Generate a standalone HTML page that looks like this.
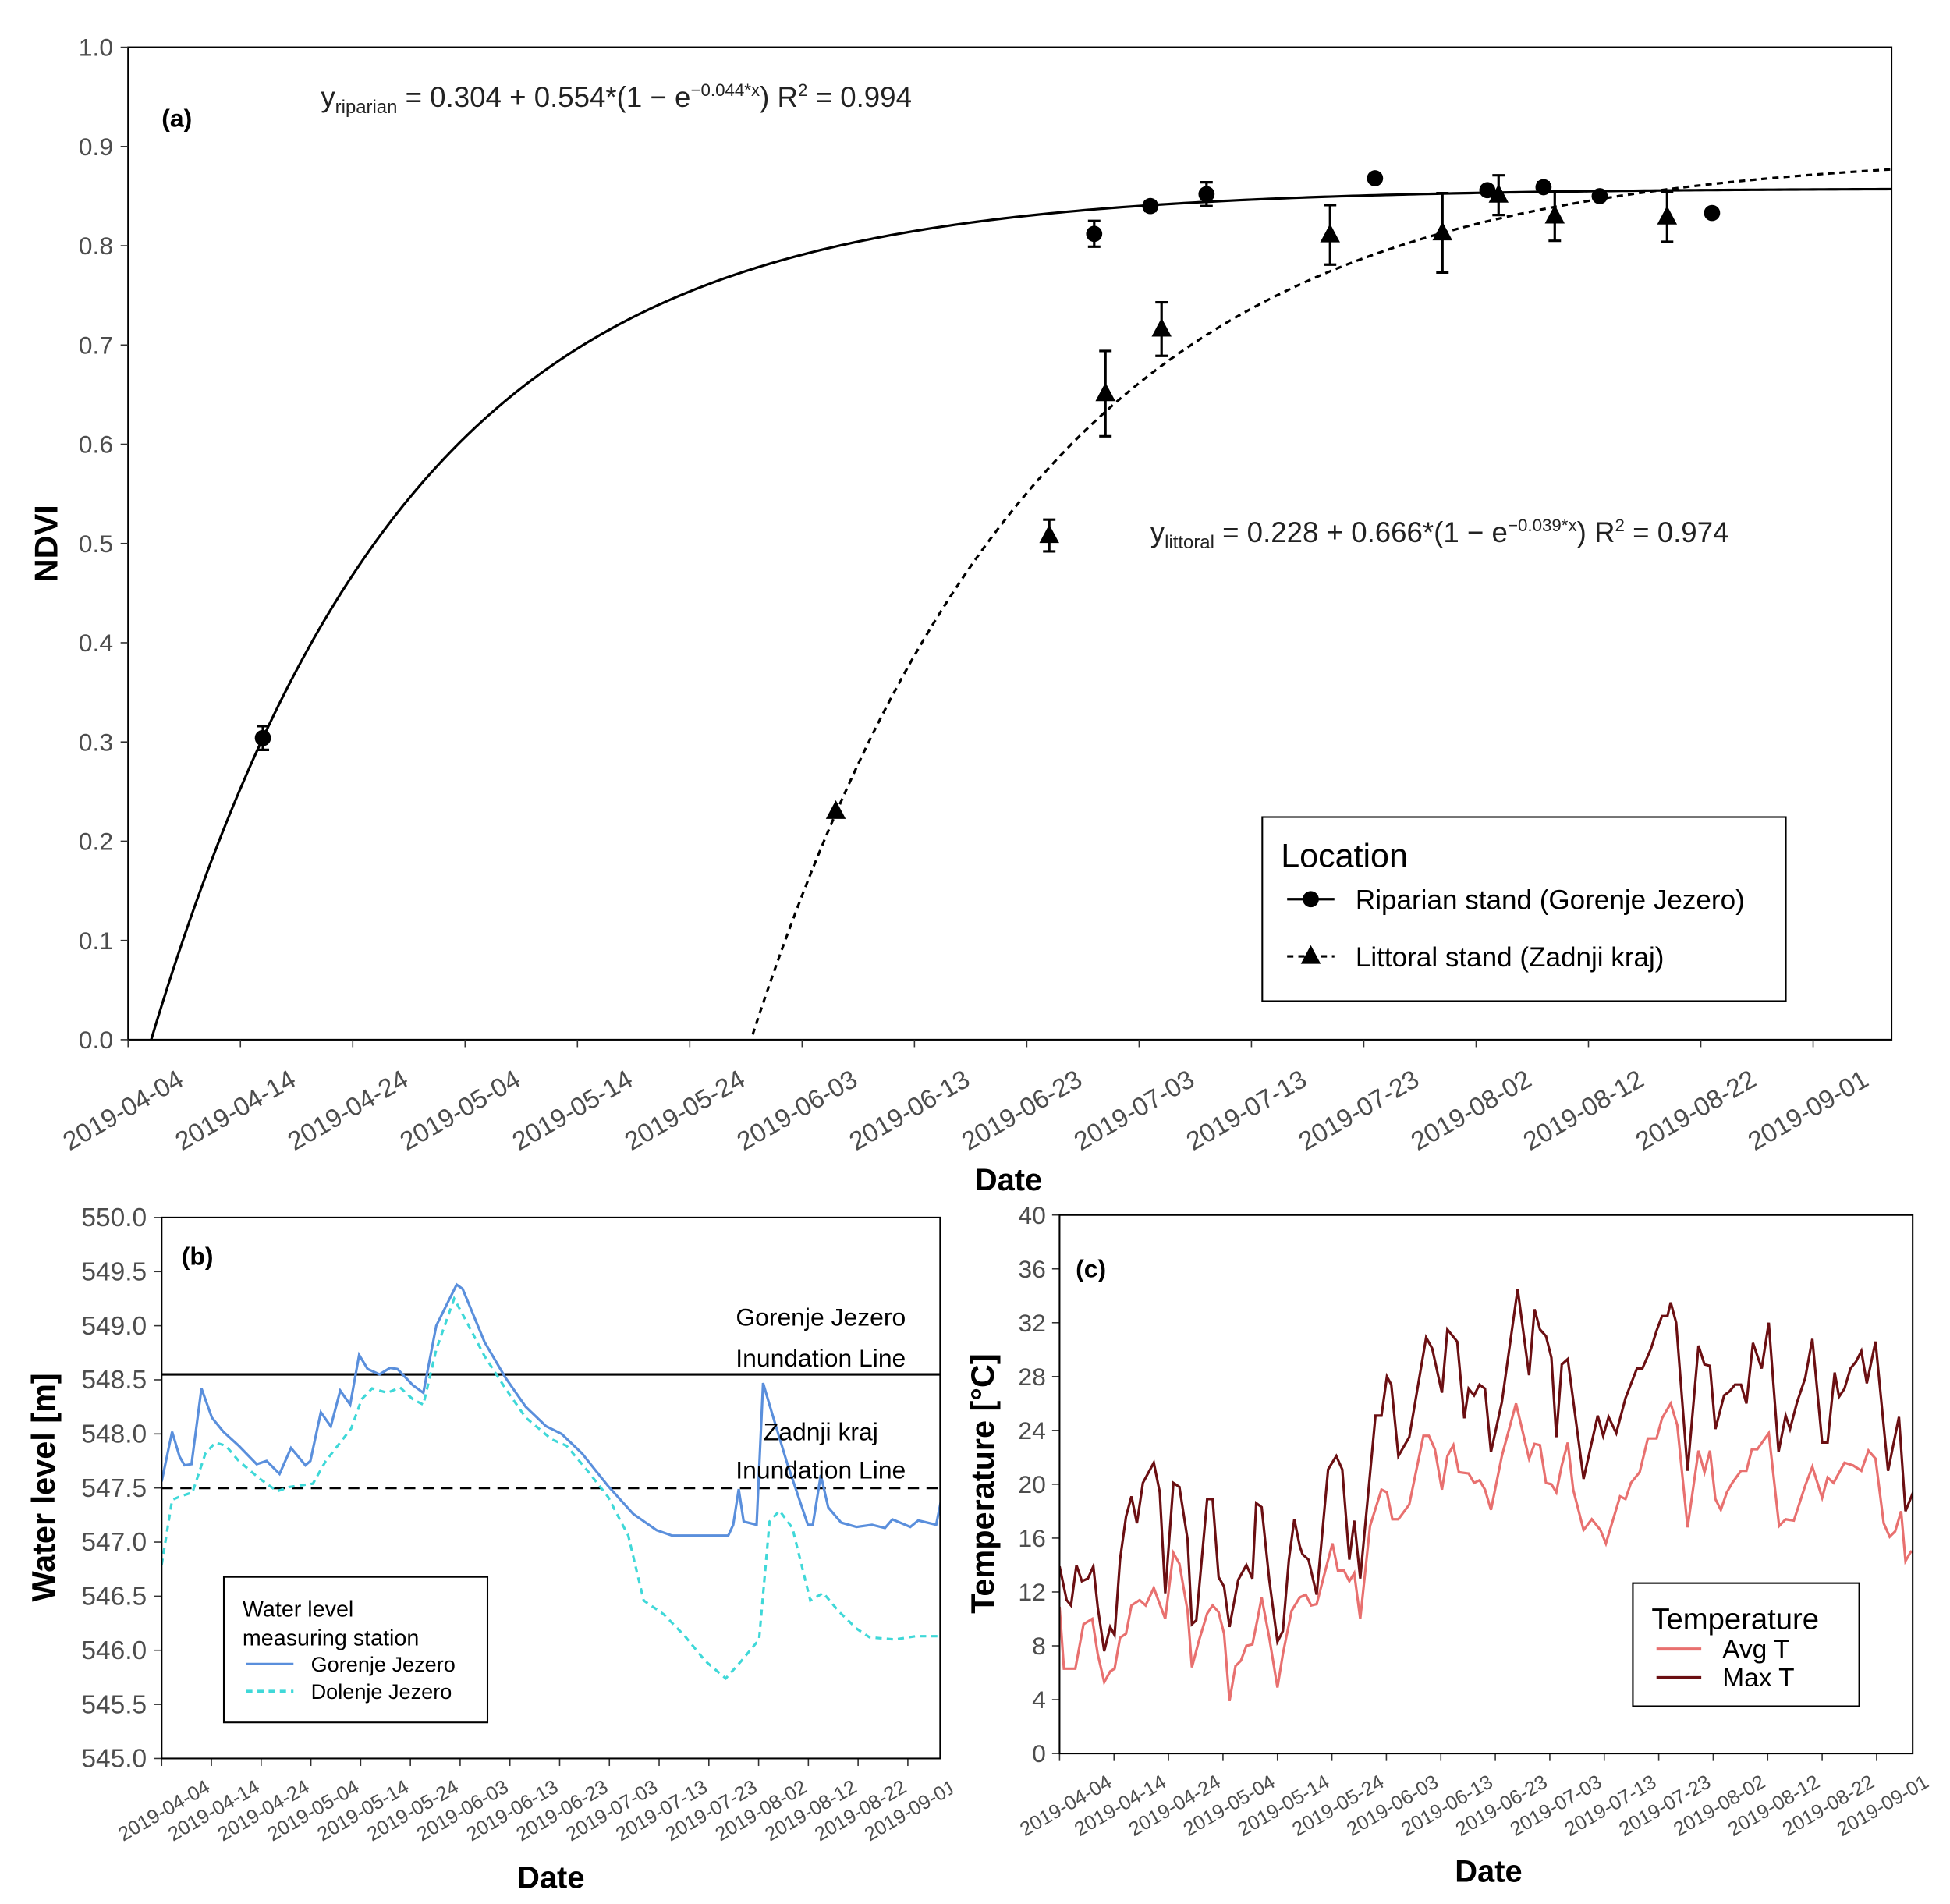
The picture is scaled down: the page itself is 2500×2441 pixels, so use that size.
<!DOCTYPE html>
<html><head><meta charset="utf-8"><style>
html,body{margin:0;padding:0;background:#fff;overflow:hidden;width:2500px;height:2441px;}
svg{display:block;}
text{font-family:"Liberation Sans",sans-serif;}
</style></head><body>
<svg id="fig" xmlns="http://www.w3.org/2000/svg" width="2500" height="2441" viewBox="0 0 1568 1531" preserveAspectRatio="none">
<defs>
<clipPath id="clipB"><rect x="130" y="979" width="626" height="435"/></clipPath>
<clipPath id="clipC"><rect x="852" y="977" width="686" height="433"/></clipPath>
<clipPath id="clipA"><rect x="103" y="38" width="1418" height="798"/></clipPath>
<clipPath id="clipBL"><rect x="0" y="1414" width="766" height="117"/></clipPath>
</defs>
<g id="gA"></g>
<g id="gB"></g>
<g id="gC"></g>
</svg>
<script>
// ---------- data ----------
const dateTicks = ["2019-04-04","2019-04-14","2019-04-24","2019-05-04","2019-05-14","2019-05-24","2019-06-03","2019-06-13","2019-06-23","2019-07-03","2019-07-13","2019-07-23","2019-08-02","2019-08-12","2019-08-22","2019-09-01"];
const ndviTicks = [0,0.1,0.2,0.3,0.4,0.5,0.6,0.7,0.8,0.9,1.0];
const riparianDays = [12,86,91,96,111,121,126,131,141];
const riparianNdvi = [0.304,0.812,0.840,0.852,0.868,0.856,0.859,0.850,0.833];
const riparianErr  = [0.012,0.013,0.005,0.012,0,0,0.005,0,0];
const littoralDays = [63,82,87,92,107,117,122,127,137];
const littoralNdvi = [0.230,0.508,0.651,0.716,0.811,0.813,0.851,0.830,0.829];
const littoralErr  = [0,0.016,0.043,0.027,0.030,0.040,0.020,0.025,0.025];
const riparianFit = [0.304,0.554,0.044,12];
const littoralFit = [0.228,0.666,0.039,63];

const waterTicks = [545.0,545.5,546.0,546.5,547.0,547.5,548.0,548.5,549.0,549.5,550.0];
const gorenjeDays = [0,2.1,3.6,4.6,6.0,8.0,10.1,12.4,15.5,19.1,21.1,23.7,26.0,28.9,29.9,32.0,34.0,35.9,37.9,39.7,41.4,43.8,45.9,47.4,50.5,52.6,55.2,59.3,60.5,64.9,69.1,73.2,77.3,80.4,84.5,89.7,94.8,99.5,102.6,113.9,114.9,116.0,117.0,119.6,120.9,122.7,125.8,129.9,130.9,132.5,134.0,136.6,139.7,142.8,145.4,146.9,150.5,152.1,155.7,156.7];
const gorenjeLevel = [547.56,548.02,547.79,547.71,547.72,548.42,548.15,548.02,547.89,547.72,547.75,547.63,547.87,547.71,547.75,548.20,548.07,548.40,548.27,548.73,548.60,548.55,548.61,548.60,548.45,548.38,549.00,549.38,549.34,548.85,548.52,548.25,548.07,548.00,547.82,547.52,547.26,547.11,547.06,547.06,547.16,547.49,547.19,547.16,548.47,548.19,547.72,547.16,547.16,547.62,547.32,547.18,547.14,547.16,547.13,547.21,547.14,547.20,547.16,547.39];
const dolenjeDays = [0,2.1,3.6,6.2,8.8,10.8,12.9,15.5,19.6,23.2,25.8,30.4,33.0,38.1,40.2,42.3,45.4,47.9,50.5,52.6,55.2,58.8,60.8,64.9,69.1,73.2,78.4,81.4,85.6,89.7,93.8,96.9,101.0,105.2,109.3,113.4,116.5,120.1,122.2,124.2,126.8,130.4,133.0,136.1,139.7,142.3,147.4,151.5,156.7];
const dolenjeLevel = [546.79,547.39,547.42,547.46,547.82,547.92,547.89,547.75,547.59,547.47,547.51,547.54,547.75,548.05,548.32,548.42,548.38,548.43,548.32,548.27,548.78,549.25,549.08,548.72,548.42,548.15,547.95,547.89,547.66,547.42,547.06,546.46,546.33,546.13,545.90,545.74,545.90,546.10,547.19,547.29,547.13,546.46,546.53,546.36,546.20,546.12,546.10,546.13,546.13];
const inundationLevels = [548.55,547.5];

const tempTicks = [0,4,8,12,16,20,24,28,32,36,40];
const maxTDays = [0,1.3,2.1,3.1,4.1,5.2,6.2,7.0,8.2,9.3,10.1,11.1,12.2,13.2,14.2,15.3,17.3,18.4,19.4,20.9,22.0,23.5,24.3,25.1,27.1,28.1,29.2,30.2,31.2,32.8,34.3,35.4,36.1,37.1,38.5,40.0,41.0,42.1,43.1,44.1,44.6,45.7,47.2,49.3,50.8,51.9,53.2,54.1,55.2,58.0,59.1,60.1,60.9,62.2,64.2,67.3,68.4,70.2,71.2,73.0,74.3,75.1,76.1,77.1,78.1,79.2,81.2,84.1,86.2,87.2,88.2,89.3,90.3,91.2,92.2,93.3,96.2,98.8,99.8,100.8,102.2,103.9,106.0,107.0,108.6,109.6,110.6,111.6,112.2,113.2,115.3,117.3,118.4,119.4,120.4,122.0,123.0,124.0,125.1,126.1,127.3,128.9,130.2,132.0,133.3,134.1,135.4,136.9,138.2,140.0,141.0,142.3,143.1,144.1,145.2,146.2,147.2,148.2,149.8,152.1,154.1,155.3,157.2];
const maxT = [13.9,11.4,11.0,14.0,12.8,13.0,13.9,10.9,7.6,9.4,8.8,14.4,17.6,19.1,17.1,20.1,21.6,19.4,11.9,20.1,19.8,15.9,9.6,9.9,18.9,18.9,13.1,12.4,9.4,12.9,14.0,13.0,18.6,18.3,12.9,8.3,9.1,14.4,17.4,15.4,14.8,14.4,11.8,21.1,22.1,21.1,14.4,17.3,13.0,25.1,25.1,28.0,27.4,22.1,23.5,30.9,30.1,26.8,31.5,30.6,24.9,27.1,26.6,27.4,27.1,22.4,26.1,34.5,28.1,33.0,31.5,31.0,29.4,23.5,28.9,29.3,20.4,25.1,23.6,25.0,23.8,26.4,28.6,28.6,30.1,31.4,32.5,32.5,33.5,32.0,21.0,30.3,28.9,28.8,24.1,26.6,26.9,27.4,27.4,26.0,30.5,28.6,32.0,22.4,25.1,24.1,26.1,27.9,30.8,23.1,23.1,28.3,26.5,27.1,28.6,29.1,29.9,27.5,30.6,21.0,25.0,18.0,19.9];
const avgTDays = [0,0.8,2.9,4.4,6.0,7.0,8.2,9.3,10.1,11.1,12.2,13.2,14.7,15.8,17.3,19.4,20.9,22.0,23.5,24.3,25.6,27.1,28.1,29.2,30.2,31.2,32.3,33.3,34.3,35.4,36.4,37.1,38.5,40.0,41.0,42.6,44.1,45.2,46.2,47.2,48.8,50.1,51.1,52.2,53.2,54.1,55.2,57.0,59.1,60.1,61.1,62.2,64.2,66.8,67.8,68.9,70.2,71.2,72.3,73.3,75.1,76.1,77.1,78.1,79.2,81.2,83.8,86.2,87.2,88.2,89.3,90.3,91.2,92.2,93.3,94.3,96.2,97.7,99.3,100.3,102.9,103.9,104.9,106.5,108.0,109.6,110.6,112.2,113.4,115.3,117.3,118.4,119.4,120.4,121.4,122.5,123.5,125.1,126.1,127.1,128.1,130.2,132.1,133.3,134.8,136.9,138.2,140.0,141.0,142.1,144.1,145.7,147.2,148.5,149.8,151.3,152.4,153.4,154.5,155.3,156.3,157.2];
const avgT = [10.9,6.3,6.3,9.6,10.0,7.4,5.3,6.1,6.3,8.6,8.9,11.0,11.4,11.0,12.3,10.0,14.9,14.1,10.6,6.4,8.4,10.4,11.0,10.5,8.9,3.9,6.5,6.9,8.0,8.1,10.1,11.6,8.6,4.9,7.4,10.6,11.6,11.8,11.0,11.1,13.6,15.6,13.6,13.6,12.8,13.4,10.0,16.9,19.6,19.4,17.4,17.4,18.5,23.6,23.6,22.6,19.6,22.1,22.9,20.9,20.8,20.1,20.3,19.6,18.1,22.1,26.0,21.9,23.0,22.9,20.1,20.0,19.4,21.4,23.1,19.6,16.6,17.4,16.6,15.6,19.1,18.9,20.1,20.9,23.4,23.4,24.9,26.0,24.4,16.8,22.5,20.9,22.5,18.9,18.1,19.4,20.1,21.0,21.0,22.6,22.6,23.8,16.9,17.4,17.3,19.9,21.3,19.0,20.5,20.1,21.6,21.4,21.0,22.5,21.9,17.1,16.1,16.5,18.0,14.3,15.0,14.9];

// ---------- helpers ----------
const NS="http://www.w3.org/2000/svg";
function mk(parent,tag,attrs,txt){const e=document.createElementNS(NS,tag);for(const k in attrs)e.setAttribute(k,attrs[k]);if(txt!==undefined)e.textContent=txt;parent.appendChild(e);return e;}
function poly(xs,ys,fx,fy){return xs.map((d,i)=>fx(d).toFixed(2)+","+fy(ys[i]).toFixed(2)).join(" ");}

// ---------- panel A ----------
const gA=document.getElementById('gA');
const xA=d=>103+9.033*d, yA=v=>836-798*v;
let e;
e=mk(gA,'rect',{x:103,y:38,width:1418,height:798,fill:'none',stroke:'#000','stroke-width':1.3});

ndviTicks.forEach(v=>{
  e=mk(gA,'line',{x1:97,x2:103,y1:yA(v),y2:yA(v),stroke:'#333','stroke-width':1});
  
  e=mk(gA,'text',{x:91,y:yA(v)+7,'text-anchor':'end','font-size':20,fill:'#4d4d4d'},v.toFixed(1));
  
});
dateTicks.forEach((s,i)=>{
  const x=xA(i*10);
  e=mk(gA,'line',{x1:x,x2:x,y1:836,y2:842,stroke:'#333','stroke-width':1});
  
  const lx=x+46, ly=872;
  e=mk(gA,'text',{x:lx,y:ly,'text-anchor':'end','font-size':21,fill:'#4d4d4d',transform:`rotate(-30 ${lx} ${ly})`},s);
  
});
e=mk(gA,'text',{x:811,y:957,'text-anchor':'middle','font-size':25,'font-weight':'bold'},'Date');

e=mk(gA,'text',{x:46,y:437,'text-anchor':'middle','font-size':26,'font-weight':'bold',transform:'rotate(-90 46 437)'},'NDVI');

e=mk(gA,'text',{x:130,y:102,'font-size':20,'font-weight':'bold'},'(a)');

function fitPts(p){const pts=[];for(let d=0;d<=158;d+=0.5){const v=p[0]+p[1]*(1-Math.exp(-p[2]*(d-p[3])));pts.push(xA(d).toFixed(2)+","+yA(v).toFixed(2));}return pts.join(" ");}
const ga2=mk(gA,'g',{'clip-path':'url(#clipA)'});
e=mk(ga2,'polyline',{points:fitPts(riparianFit),fill:'none',stroke:'#000','stroke-width':2});

e=mk(ga2,'polyline',{points:fitPts(littoralFit),fill:'none',stroke:'#000','stroke-width':2,'stroke-dasharray':'5,4'});

function errBar(x,v,er){if(!er)return;const y1=yA(v+er),y2=yA(v-er);
  e=mk(gA,'path',{d:`M${x},${y1}V${y2}M${x-5},${y1}H${x+5}M${x-5},${y2}H${x+5}`,stroke:'#000','stroke-width':2,fill:'none'});
  }
riparianDays.forEach((d,i)=>{const x=xA(d),y=yA(riparianNdvi[i]);errBar(x,riparianNdvi[i],riparianErr[i]);
  e=mk(gA,'circle',{cx:x,cy:y,r:6.5,fill:'#000'});
  });
littoralDays.forEach((d,i)=>{const x=xA(d),y=yA(littoralNdvi[i]);errBar(x,littoralNdvi[i],littoralErr[i]);
  e=mk(gA,'polygon',{points:`${x},${y-9} ${x-8},${y+6} ${x+8},${y+6}`,fill:'#000'});
  });
// equations
e=mk(gA,'text',{x:258,y:86,'font-size':23,fill:'#222'});

e.innerHTML='y<tspan font-size="15" dy="5">riparian</tspan><tspan dy="-5"> = 0.304 + 0.554*(1 − e</tspan><tspan font-size="14" dy="-9">−0.044*x</tspan><tspan dy="9">) R</tspan><tspan font-size="14" dy="-9">2</tspan><tspan dy="9"> = 0.994</tspan>';
e=mk(gA,'text',{x:925,y:436,'font-size':23,fill:'#222'});

e.innerHTML='y<tspan font-size="15" dy="5">littoral</tspan><tspan dy="-5"> = 0.228 + 0.666*(1 − e</tspan><tspan font-size="14" dy="-9">−0.039*x</tspan><tspan dy="9">) R</tspan><tspan font-size="14" dy="-9">2</tspan><tspan dy="9"> = 0.974</tspan>';
// legend
const lgA=mk(gA,'g',{});

mk(lgA,'rect',{x:1015,y:657,width:421,height:148,fill:'#fff',stroke:'#000','stroke-width':1.3});
mk(lgA,'text',{x:1030,y:697,'font-size':27},'Location');
mk(lgA,'line',{x1:1035,x2:1073,y1:723,y2:723,stroke:'#000','stroke-width':2});
mk(lgA,'circle',{cx:1054,cy:723,r:6.5,fill:'#000'});
mk(lgA,'text',{x:1090,y:731,'font-size':22},'Riparian stand (Gorenje Jezero)');
mk(lgA,'line',{x1:1035,x2:1073,y1:769,y2:769,stroke:'#000','stroke-width':2,'stroke-dasharray':'5,4'});
mk(lgA,'polygon',{points:'1054,760 1046,775 1062,775',fill:'#000'});
mk(lgA,'text',{x:1090,y:777,'font-size':22},'Littoral stand (Zadnji kraj)');

// ---------- panel B ----------
const gB=document.getElementById('gB');
const xB=d=>130+4.0*d, yB=v=>979+87*(550-v);
waterTicks.forEach(v=>{
  e=mk(gB,'line',{x1:124,x2:130,y1:yB(v),y2:yB(v),stroke:'#333'});
  
  e=mk(gB,'text',{x:118,y:yB(v)+7,'text-anchor':'end','font-size':21,fill:'#4d4d4d'},v.toFixed(1));
  
});
const gBL=mk(gB,'g',{'clip-path':'url(#clipBL)'});
dateTicks.forEach((s,i)=>{
  const x=xB(i*10);
  e=mk(gB,'line',{x1:x,x2:x,y1:1414,y2:1420,stroke:'#333'});
  
  const lx=x+40, ly=1440;
  e=mk(gBL,'text',{x:lx,y:ly,'text-anchor':'end','font-size':16,fill:'#4d4d4d',transform:`rotate(-30 ${lx} ${ly})`},s);
  
});
const gBc=mk(gB,'g',{'clip-path':'url(#clipB)'});
e=mk(gBc,'line',{x1:130,x2:756,y1:yB(inundationLevels[0]),y2:yB(inundationLevels[0]),stroke:'#000','stroke-width':2});

e=mk(gBc,'line',{x1:130,x2:756,y1:yB(inundationLevels[1]),y2:yB(inundationLevels[1]),stroke:'#000','stroke-width':2,'stroke-dasharray':'9,6'});

e=mk(gBc,'polyline',{points:poly(dolenjeDays,dolenjeLevel,xB,yB),fill:'none',stroke:'#3fd8d8','stroke-width':2,'stroke-dasharray':'5,4'});

e=mk(gBc,'polyline',{points:poly(gorenjeDays,gorenjeLevel,xB,yB),fill:'none',stroke:'#5a8fdc','stroke-width':2});

e=mk(gB,'rect',{x:130,y:979,width:626,height:435,fill:'none',stroke:'#000','stroke-width':1.3});

[['Gorenje Jezero',1066],['Inundation Line',1099],['Zadnji kraj',1158],['Inundation Line',1189]].forEach(t=>{
  e=mk(gB,'text',{x:660,y:t[1],'text-anchor':'middle','font-size':20},t[0]);
  });
e=mk(gB,'text',{x:146,y:1017,'font-size':20,'font-weight':'bold'},'(b)');

e=mk(gB,'text',{x:443,y:1518,'text-anchor':'middle','font-size':25,'font-weight':'bold'},'Date');

e=mk(gB,'text',{x:44,y:1196,'text-anchor':'middle','font-size':26,'font-weight':'bold',transform:'rotate(-90 44 1196)'},'Water level [m]');

const lgB=mk(gB,'g',{});

mk(lgB,'rect',{x:180,y:1268,width:212,height:117,fill:'#fff',stroke:'#000','stroke-width':1.3});
mk(lgB,'text',{x:195,y:1300,'font-size':18},'Water level');
mk(lgB,'text',{x:195,y:1323,'font-size':18},'measuring station');
mk(lgB,'line',{x1:198,x2:236,y1:1338,y2:1338,stroke:'#5a8fdc','stroke-width':2});
mk(lgB,'text',{x:250,y:1344,'font-size':17},'Gorenje Jezero');
mk(lgB,'line',{x1:198,x2:236,y1:1360,y2:1360,stroke:'#3fd8d8','stroke-width':2.5,'stroke-dasharray':'5,4'});
mk(lgB,'text',{x:250,y:1366,'font-size':17},'Dolenje Jezero');

// ---------- panel C ----------
const gC=document.getElementById('gC');
const xC=d=>852+4.38*d, yC=t=>1410-10.825*t;
tempTicks.forEach(v=>{
  e=mk(gC,'line',{x1:846,x2:852,y1:yC(v),y2:yC(v),stroke:'#333'});
  
  e=mk(gC,'text',{x:841,y:yC(v)+7,'text-anchor':'end','font-size':20,fill:'#4d4d4d'},String(v));
  
});
dateTicks.forEach((s,i)=>{
  const x=xC(i*10);
  e=mk(gC,'line',{x1:x,x2:x,y1:1410,y2:1416,stroke:'#333'});
  
  const lx=x+43, ly=1436;
  e=mk(gC,'text',{x:lx,y:ly,'text-anchor':'end','font-size':16,fill:'#4d4d4d',transform:`rotate(-30 ${lx} ${ly})`},s);
  
});
const gCc=mk(gC,'g',{'clip-path':'url(#clipC)'});
e=mk(gCc,'polyline',{points:poly(avgTDays,avgT,xC,yC),fill:'none',stroke:'#e8706f','stroke-width':2});

e=mk(gCc,'polyline',{points:poly(maxTDays,maxT,xC,yC),fill:'none',stroke:'#6b0f12','stroke-width':2});

e=mk(gC,'rect',{x:852,y:977,width:686,height:433,fill:'none',stroke:'#000','stroke-width':1.3});

e=mk(gC,'text',{x:865,y:1027,'font-size':20,'font-weight':'bold'},'(c)');

e=mk(gC,'text',{x:1197,y:1513,'text-anchor':'middle','font-size':25,'font-weight':'bold'},'Date');

e=mk(gC,'text',{x:799,y:1193,'text-anchor':'middle','font-size':26,'font-weight':'bold',transform:'rotate(-90 799 1193)'},'Temperature [°C]');

const lgC=mk(gC,'g',{});

mk(lgC,'rect',{x:1313,y:1273,width:182,height:99,fill:'#fff',stroke:'#000','stroke-width':1.3});
mk(lgC,'text',{x:1328,y:1310,'font-size':24},'Temperature');
mk(lgC,'line',{x1:1332,x2:1368,y1:1326,y2:1326,stroke:'#e8706f','stroke-width':2.5});
mk(lgC,'text',{x:1385,y:1333,'font-size':21},'Avg T');
mk(lgC,'line',{x1:1332,x2:1368,y1:1349,y2:1349,stroke:'#6b0f12','stroke-width':2.5});
mk(lgC,'text',{x:1385,y:1356,'font-size':21},'Max T');
</script>
</body></html>
